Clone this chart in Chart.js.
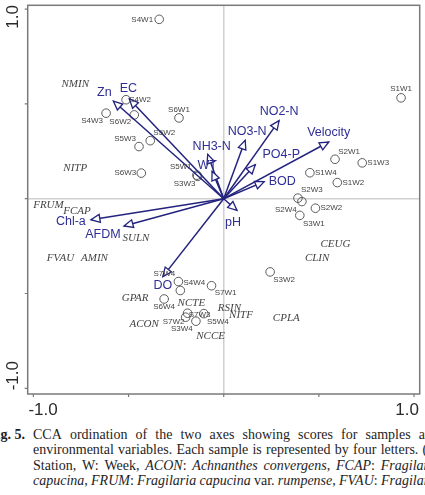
<!DOCTYPE html>
<html>
<head>
<meta charset="utf-8">
<script src="https://cdn.jsdelivr.net/npm/chart.js@4.4.0/dist/chart.umd.min.js"></script>
<style>
  html, body { margin: 0; padding: 0; background: #fff; }
  body { width: 425px; height: 495px; overflow: hidden; position: relative; }
  #wrap { position: absolute; left: 0; top: 0; width: 425px; height: 425px; }
  .cap { position: absolute; display: flex; justify-content: space-between; white-space: nowrap;
         font-family: "Liberation Serif", "Times New Roman", serif; font-size: 14px; line-height: 16px; color: #1e1e1e; }
  .fig { position: absolute; left: -12px; top: 427px; font-family: "Liberation Serif", serif; font-size: 14px;
         line-height: 16px; font-weight: bold; color: #1e1e1e; }
</style>
</head>
<body>
<div id="wrap"><canvas id="cca" width="425" height="425"></canvas></div>

<div class="fig">Fig. 5.</div>
<div class="cap" style="left:33px; width:406px; top:427px">
  <span>CCA</span><span>ordination</span><span>of</span><span>the</span><span>two</span><span>axes</span><span>showing</span><span>scores</span><span>for</span><span>samples</span><span>and</span>
</div>
<div class="cap" style="left:33px; width:406px; top:442px">
  <span>environmental</span><span>variables.</span><span>Each</span><span>sample</span><span>is</span><span>represented</span><span>by</span><span>four</span><span>letters.</span><span>(S:</span>
</div>
<div class="cap" style="left:33px; width:407px; top:458px">
  <span>Station,</span><span>W:</span><span>Week,</span><span><i>ACON</i>:</span><span><i>Achnanthes</i></span><span><i>convergens</i>,</span><span><i>FCAP</i>:</span><span><i>Fragilaria</i></span>
</div>
<div class="cap" style="left:33px; width:407px; top:473px">
  <span><i>capucina</i>,</span><span><i>FRUM</i>:</span><span><i>Fragilaria</i></span><span><i>capucina</i></span><span>var.</span><span><i>rumpense</i>,</span><span><i>FVAU</i>:</span><span><i>Fragilaria</i></span>
</div>

<script>
// sample scores (axis 1, axis 2)
const sampleNames = ['S1W1','S1W2','S1W3','S1W4','S2W1','S2W2','S2W3','S2W4','S3W1','S3W2','S3W3','S3W4',
  'S4W1','S4W2','S4W3','S4W4','S5W1','S5W2','S5W3','S5W4','S6W1','S6W2','S6W3','S6W4','S7W1','S7W2','S7W3','S7W4']
const sampleX = [0.932,0.597,0.728,0.453,0.585,0.482,0.390,0.411,0.400,0.244,-0.137,-0.146,
  -0.339,-0.513,-0.618,-0.238,-0.141,-0.386,-0.445,-0.104,-0.235,-0.470,-0.433,-0.313,-0.064,-0.200,-0.190,-0.228]
const sampleY = [0.532,0.085,0.189,0.137,0.208,-0.050,0.003,-0.015,-0.088,-0.386,0.118,-0.646,
  0.946,0.522,0.451,-0.437,0.124,0.306,0.275,-0.606,0.426,0.442,0.135,-0.529,-0.459,-0.625,-0.604,-0.484]

// species scores
const speciesNames = ['NMIN','NITP','FRUM','FCAP','SULN','FVAU','AMIN','GPAR','NCTE','ACON','RSIN','NITF','NCCE','CEUG','CLIN','CPLA']
const speciesX = [-0.780,-0.780,-0.921,-0.771,-0.461,-0.858,-0.679,-0.466,-0.170,-0.418,0.030,0.091,-0.069,0.587,0.491,0.329]
const speciesY = [0.604,0.161,-0.034,-0.067,-0.210,-0.315,-0.315,-0.524,-0.553,-0.660,-0.579,-0.616,-0.724,-0.240,-0.315,-0.632]

// environmental variables (arrow tips)
const envNames = ['Zn','EC','NH3-N','WT','NO2-N','NO3-N','Velocity','PO4-P','BOD','pH','Chl-a','AFDM','DO']
const envX = [-0.580,-0.496,-0.084,-0.061,0.291,0.113,0.552,0.166,0.213,0.070,-0.698,-0.524,-0.320]
const envY = [0.515,0.526,0.234,0.145,0.412,0.308,0.299,0.179,0.090,-0.062,-0.111,-0.144,-0.411]

const tickVals = [-1, -0.5, 0, 0.5, 1]

// label placement (pixels from the point)
const sampleLabelOffset = {
  S1W1:[0,-9], S1W2:[16,0], S1W3:[16,0], S1W4:[16,0], S2W1:[14,-7], S2W2:[16,0], S2W3:[14,-8], S2W4:[-16,8],
  S3W1:[14,8], S3W2:[14,8], S3W3:[-13,7], S3W4:[-14,8], S4W1:[-17,0], S4W2:[14,0], S4W3:[-14,8], S4W4:[16,1],
  S5W1:[-16,-8], S5W2:[14,-8], S5W3:[-14,-8], S5W4:[14,8], S6W1:[0,-8], S6W2:[-14,7], S6W3:[-16,0], S6W4:[0,8],
  S7W1:[14,7], S7W2:[-12,5], S7W3:[12,2], S7W4:[-16,-17]
}
const envLabelOffset = {
  'Zn':[-9,-9], 'EC':[-1,-10], 'NH3-N':[4,-8], 'WT':[-5,-6], 'NO2-N':[0,-9], 'NO3-N':[2,-9], 'Velocity':[0,-9],
  'PO4-P':[26,-10], 'BOD':[18,0], 'pH':[-4,12], 'Chl-a':[-20,2], 'AFDM':[-21,9], 'DO':[0,9]
}

const navy = '#23237f'

const arrowSets = envNames.map((n, i) => ({
  label: n,
  type: 'line',
  data: [{x: 0, y: 0}, {x: envX[i], y: envY[i]}],
  showLine: true,
  borderColor: navy,
  borderWidth: 1.5,
  pointRadius: 0,
  order: 0
}))

const ccaPlugin = {
  id: 'cca',
  beforeDatasetsDraw(chart) {
    const {ctx, chartArea: a} = chart
    ctx.save()
    ctx.strokeStyle = '#7a7a7a'
    ctx.lineWidth = 1.5
    ctx.strokeRect(a.left, a.top, a.right - a.left, a.bottom - a.top)
    ctx.restore()
  },
  afterDatasetsDraw(chart) {
    const {ctx, chartArea: a, scales: {x, y}} = chart
    ctx.save()
    // arrow heads
    envNames.forEach((n, i) => {
      const ox = x.getPixelForValue(0), oy = y.getPixelForValue(0)
      const tx = x.getPixelForValue(envX[i]), ty = y.getPixelForValue(envY[i])
      const len = Math.hypot(tx - ox, ty - oy)
      const ux = (tx - ox) / len, uy = (ty - oy) / len
      const bx = tx - ux * 9, by = ty - uy * 9
      ctx.beginPath()
      ctx.moveTo(tx, ty)
      ctx.lineTo(bx - uy * 4, by + ux * 4)
      ctx.lineTo(bx + uy * 4, by - ux * 4)
      ctx.closePath()
      ctx.fillStyle = '#fff'
      ctx.fill()
      ctx.strokeStyle = navy
      ctx.lineWidth = 1.3
      ctx.stroke()
    })
    ctx.textAlign = 'center'
    ctx.textBaseline = 'middle'
    // env labels
    ctx.fillStyle = '#2e2e95'
    ctx.font = '12.5px Arial, "Liberation Sans", sans-serif'
    envNames.forEach((n, i) => {
      const o = envLabelOffset[n]
      ctx.fillText(n, x.getPixelForValue(envX[i]) + o[0], y.getPixelForValue(envY[i]) + o[1])
    })
    // sample labels
    ctx.fillStyle = '#444'
    ctx.font = '8px Arial, "Liberation Sans", sans-serif'
    sampleNames.forEach((n, i) => {
      const o = sampleLabelOffset[n]
      ctx.fillText(n, x.getPixelForValue(sampleX[i]) + o[0], y.getPixelForValue(sampleY[i]) + o[1])
    })
    // species labels
    ctx.font = 'italic 11px "Liberation Serif", "Times New Roman", serif'
    ctx.fillStyle = '#444'
    speciesNames.forEach((n, i) => {
      ctx.fillText(n, x.getPixelForValue(speciesX[i]), y.getPixelForValue(speciesY[i]))
    })
    ctx.restore()
  },
  afterDraw(chart) {
    const {ctx, chartArea: a, scales: {x, y}} = chart
    ctx.save()
    ctx.strokeStyle = '#7a7a7a'
    ctx.lineWidth = 1.2
    tickVals.forEach(v => {
      const px = x.getPixelForValue(v), py = y.getPixelForValue(v)
      ctx.beginPath()
      ctx.moveTo(px, a.bottom); ctx.lineTo(px, a.bottom + 3)
      ctx.moveTo(a.left, py); ctx.lineTo(a.left - 3, py)
      ctx.stroke()
    })
    ctx.fillStyle = '#2a2a2a'
    ctx.font = '17px Arial, "Liberation Sans", sans-serif'
    ctx.textBaseline = 'middle'
    ctx.textAlign = 'left'
    ctx.fillText('-1.0', x.getPixelForValue(-1) - 5, a.bottom + 16)
    ctx.textAlign = 'right'
    ctx.fillText('1.0', x.getPixelForValue(1) + 5, a.bottom + 16)
    ctx.translate(13, 0)
    ctx.rotate(-Math.PI / 2)
    ctx.textAlign = 'right'
    ctx.fillText('1.0', -(y.getPixelForValue(1) - 4), 0)
    ctx.textAlign = 'left'
    ctx.fillText('-1.0', -(y.getPixelForValue(-1) + 2), 0)
    ctx.restore()
  }
}

const zeroGrid = {
  drawTicks: false,
  lineWidth: 1.5,
  color: c => (c.tick && c.tick.value === 0 ? '#d0d0d0' : 'rgba(0,0,0,0)')
}

new Chart(document.getElementById('cca'), {
  type: 'scatter',
  data: {
    datasets: [
      ...arrowSets,
      {
        label: 'samples',
        data: sampleX.map((v, i) => ({x: v, y: sampleY[i]})),
        pointRadius: 4.3,
        pointBorderWidth: 1,
        borderColor: '#5a5a5a',
        backgroundColor: 'rgba(255,255,255,0)',
        order: 2
      },
      {
        label: 'species',
        data: speciesX.map((v, i) => ({x: v, y: speciesY[i]})),
        pointRadius: 0,
        order: 3
      }
    ]
  },
  options: {
    responsive: false,
    animation: false,
    layout: {padding: {left: 27.7, top: 1, right: 3.3, bottom: 31}},
    plugins: {legend: {display: false}, tooltip: {enabled: false}},
    scales: {
      x: {
        type: 'linear', min: -1.03, max: 1.03,
        afterBuildTicks: s => { s.ticks = tickVals.map(v => ({value: v})) },
        afterFit: s => { s.height = 0 },
        ticks: {display: false},
        grid: zeroGrid,
        border: {display: false}
      },
      y: {
        type: 'linear', min: -1.03, max: 1.02,
        afterBuildTicks: s => { s.ticks = tickVals.map(v => ({value: v})) },
        afterFit: s => { s.width = 0 },
        ticks: {display: false},
        grid: zeroGrid,
        border: {display: false}
      }
    }
  },
  plugins: [ccaPlugin]
})
</script>
</body>
</html>
